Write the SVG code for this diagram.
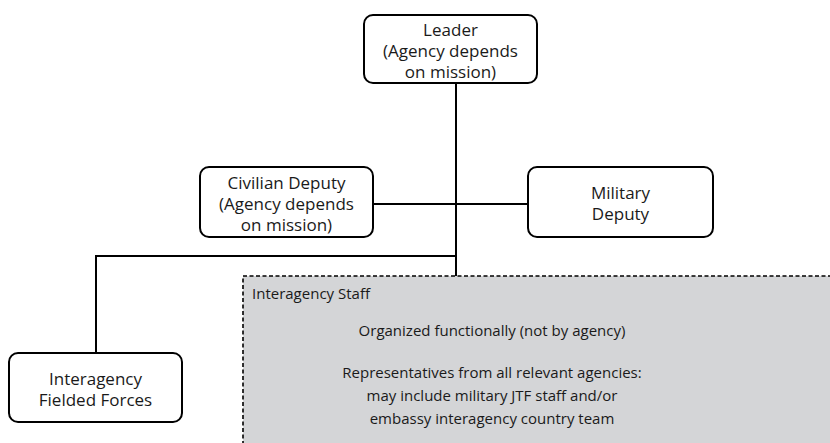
<svg xmlns="http://www.w3.org/2000/svg" width="830" height="443" viewBox="0 0 830 443">
  <style>
    .box { fill: #ffffff; stroke: #000000; stroke-width: 2; }
    .staff { fill: #d4d5d7; stroke: #000000; stroke-width: 1.6; stroke-dasharray: 4 2.5; }
    .wire { fill: none; stroke: #000000; stroke-width: 2; }
    text { font-family: "Open Sans", "Liberation Sans", sans-serif; font-size: 15px; fill: #1a1a1a; }
    .n { font-size: 17px; text-anchor: middle; }
    .c { text-anchor: middle; }
  </style>

  <g id="connectors">
    <path class="wire" d="M456 83 V276"/>
    <path class="wire" d="M373 204 H528"/>
    <path class="wire" d="M456 256 H96 V353"/>
  </g>

  <g id="interagency-staff">
    <rect class="staff" x="243" y="276" width="600" height="180"/>
    <text x="252" y="299">Interagency Staff</text>
    <text class="c" x="492" y="336">Organized functionally (not by agency)</text>
    <text class="c" x="492" y="378">Representatives from all relevant agencies:</text>
    <text class="c" x="492" y="401">may include military JTF staff and/or</text>
    <text class="c" x="492" y="424">embassy interagency country team</text>
  </g>

  <g id="leader">
    <rect class="box" x="364" y="15" width="173" height="68" rx="9"/>
    <text class="n" x="450.5" y="36">Leader</text>
    <text class="n" x="450.5" y="57">(Agency depends</text>
    <text class="n" x="450.5" y="78">on mission)</text>
  </g>

  <g id="civilian-deputy">
    <rect class="box" x="200" y="167" width="173" height="70" rx="9"/>
    <text class="n" x="286.5" y="189">Civilian Deputy</text>
    <text class="n" x="286.5" y="210">(Agency depends</text>
    <text class="n" x="286.5" y="231">on mission)</text>
  </g>

  <g id="military-deputy">
    <rect class="box" x="528" y="167" width="185" height="70" rx="9"/>
    <text class="n" x="620.5" y="199">Military</text>
    <text class="n" x="620.5" y="220">Deputy</text>
  </g>

  <g id="fielded-forces">
    <rect class="box" x="9" y="353" width="173" height="69" rx="9"/>
    <text class="n" x="95.5" y="385">Interagency</text>
    <text class="n" x="95.5" y="406">Fielded Forces</text>
  </g>
</svg>
